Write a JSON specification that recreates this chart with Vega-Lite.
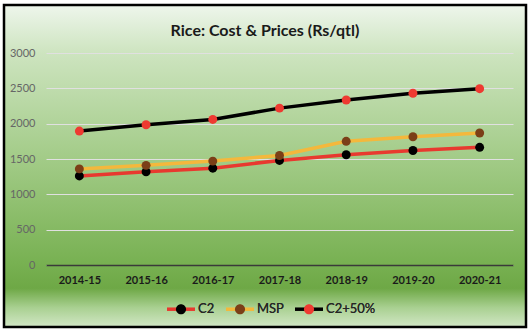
{
  "$schema": "https://vega.github.io/schema/vega-lite/v6.json",
  "width": 522,
  "height": 322,
  "autosize": {"type": "none"},
  "padding": {"left": 4, "top": 5, "right": 6, "bottom": 6},
  "background": "white",
  "view": {
    "fill": {
      "gradient": "linear", "x1": 0, "y1": 0, "x2": 0, "y2": 1,
      "stops": [
        {"offset": 0, "color": "#eef6ec"},
        {"offset": 0.15, "color": "#cde4bf"},
        {"offset": 0.48, "color": "#a2cb87"},
        {"offset": 0.8, "color": "#78b152"},
        {"offset": 0.88, "color": "#6ea846"},
        {"offset": 0.94, "color": "#a9d091"},
        {"offset": 1, "color": "#d2e7c6"}
      ]
    },
    "stroke": "#000000",
    "strokeWidth": 2.5
  },
  "title": {
    "text": "Rice: Cost & Prices (Rs/qtl)",
    "font": "Lato",
    "fontSize": 16,
    "fontWeight": "bold",
    "color": "#1a1a1a",
    "anchor": "middle",
    "baseline": "alphabetic",
    "offset": -47
  },
  "data": {
    "values": [
      {"year": "2014-15", "series": "C2", "value": 1260},
      {"year": "2015-16", "series": "C2", "value": 1320},
      {"year": "2016-17", "series": "C2", "value": 1370},
      {"year": "2017-18", "series": "C2", "value": 1480},
      {"year": "2018-19", "series": "C2", "value": 1560},
      {"year": "2019-20", "series": "C2", "value": 1620},
      {"year": "2020-21", "series": "C2", "value": 1665},
      {"year": "2014-15", "series": "MSP", "value": 1360},
      {"year": "2015-16", "series": "MSP", "value": 1410},
      {"year": "2016-17", "series": "MSP", "value": 1470},
      {"year": "2017-18", "series": "MSP", "value": 1550},
      {"year": "2018-19", "series": "MSP", "value": 1750},
      {"year": "2019-20", "series": "MSP", "value": 1815},
      {"year": "2020-21", "series": "MSP", "value": 1868},
      {"year": "2014-15", "series": "C2+50%", "value": 1895},
      {"year": "2015-16", "series": "C2+50%", "value": 1985},
      {"year": "2016-17", "series": "C2+50%", "value": 2060},
      {"year": "2017-18", "series": "C2+50%", "value": 2220},
      {"year": "2018-19", "series": "C2+50%", "value": 2335},
      {"year": "2019-20", "series": "C2+50%", "value": 2430},
      {"year": "2020-21", "series": "C2+50%", "value": 2495}
    ]
  },
  "encoding": {
    "x": {
      "field": "year", "type": "ordinal",
      "scale": {"type": "point", "range": [42, 509], "padding": 0.5},
      "axis": {
        "title": null, "orient": "bottom", "offset": -62,
        "labelAngle": 0, "labelFont": "Lato", "labelFontSize": 11, "labelFontWeight": "bold",
        "labelColor": "#1a1a1a", "labelPadding": 9,
        "ticks": false, "tickSize": 0, "grid": false,
        "domain": true, "domainColor": "#3a3a3a", "domainWidth": 1.5
      }
    },
    "y": {
      "field": "value", "type": "quantitative",
      "scale": {"domain": [0, 3000], "range": [260, 48], "nice": false, "zero": true},
      "axis": {
        "title": null, "orient": "left", "offset": -36, "format": "d",
        "values": [0, 500, 1000, 1500, 2000, 2500, 3000],
        "labelFont": "Lato", "labelFontSize": 11, "labelColor": "#666666",
        "labelPadding": 5, "ticks": false, "tickSize": 0, "domain": false,
        "grid": true, "gridColor": "#e0e0e0", "gridWidth": 1.2
      }
    }
  },
  "layer": [
    {
      "mark": {"type": "line", "strokeWidth": 3.5},
      "encoding": {
        "stroke": {
          "field": "series", "type": "nominal",
          "scale": {"domain": ["C2", "MSP", "C2+50%"], "range": ["#e8392f", "#f4b83c", "#000000"]},
          "legend": {
            "title": null, "orient": "none", "legendX": 161, "legendY": 288,
            "direction": "horizontal",
            "symbolType": "M-1,0L1,0M0,-0.4M0,0.4",
            "symbolSize": 784, "symbolStrokeWidth": 3.5, "symbolFillColor": "transparent",
            "labelOffset": 1, "columnPadding": 4, "padding": 0,
            "labelFont": "Lato", "labelFontSize": 13, "labelColor": "#262626"
          }
        }
      }
    },
    {
      "mark": {"type": "circle", "size": 80, "opacity": 1},
      "encoding": {
        "fill": {
          "field": "series", "type": "nominal", "sort": ["C2", "MSP", "C2+50%"],
          "scale": {"range": ["#000000", "#7b3f17", "#ee3a31"]},
          "legend": {
            "title": null, "orient": "none", "legendX": 161, "legendY": 288,
            "direction": "horizontal",
            "symbolType": "M-1,0M1,0M0,-0.4M0,0.4M-0.36,0A0.36,0.36 0 1,0 0.36,0A0.36,0.36 0 1,0 -0.36,0Z",
            "symbolSize": 784, "symbolStrokeWidth": 3.5, "symbolStrokeColor": "transparent",
            "symbolOpacity": 1,
            "labelOffset": 1, "columnPadding": 4, "padding": 0,
            "labelFont": "Lato", "labelFontSize": 13, "labelColor": "#262626"
          }
        }
      }
    }
  ],
  "resolve": {"scale": {"fill": "independent", "stroke": "independent"}}
}
